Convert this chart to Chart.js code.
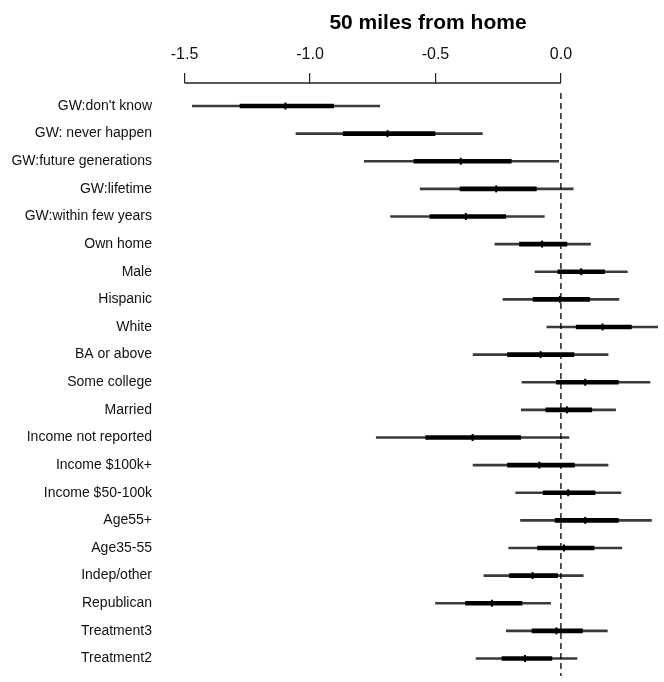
<!DOCTYPE html>
<html lang="en">
<head>
    <meta charset="UTF-8">
    <title>50 miles from home</title>
    <script src="https://cdn.jsdelivr.net/npm/chart.js@4.4.0/dist/chart.umd.min.js"></script>
    <style>
        body { margin: 0; background: #fff; }
        #wrap { width: 664px; height: 682px; position: relative; }
    </style>
</head>
<body>
    <div id="wrap"><canvas id="coefChart"></canvas></div>

    <script>
        // coefficient estimates and intervals
        var labels = ['GW:don\'t know', 'GW: never happen', 'GW:future generations', 'GW:lifetime',
            'GW:within few years', 'Own home', 'Male', 'Hispanic', 'White', 'BA or above',
            'Some college', 'Married', 'Income not reported', 'Income $100k+', 'Income $50-100k',
            'Age55+', 'Age35-55', 'Indep/other', 'Republican', 'Treatment3', 'Treatment2'];
        var est = [-1.098, -0.691, -0.399, -0.258, -0.379, -0.075, 0.081, -0.004, 0.166, -0.081,
            0.097, 0.024, -0.352, -0.086, 0.029, 0.097, 0.012, -0.113, -0.275, -0.018, -0.143];
        var innerLo = [-1.279, -0.868, -0.586, -0.402, -0.522, -0.165, -0.012, -0.111, 0.061, -0.213,
            -0.018, -0.060, -0.539, -0.213, -0.071, -0.023, -0.093, -0.205, -0.380, -0.115, -0.235];
        var innerHi = [-0.906, -0.502, -0.198, -0.098, -0.220, 0.024, 0.174, 0.114, 0.281, 0.052,
            0.229, 0.123, -0.160, 0.054, 0.136, 0.229, 0.132, -0.013, -0.155, 0.086, -0.036];
        var outerLo = [-1.469, -1.056, -0.784, -0.561, -0.679, -0.263, -0.103, -0.231, -0.056, -0.350,
            -0.155, -0.158, -0.736, -0.350, -0.180, -0.161, -0.208, -0.307, -0.500, -0.218, -0.338];
        var outerHi = [-0.722, -0.313, -0.009, 0.049, -0.066, 0.118, 0.265, 0.231, 0.39, 0.188,
            0.355, 0.218, 0.032, 0.188, 0.239, 0.361, 0.243, 0.089, -0.041, 0.185, 0.064];
        var xTicks = [-1.5, -1.0, -0.5, 0.0];
        var title = '50 miles from home';

        var outerData = labels.map((l, i) => ({ x: [outerLo[i], outerHi[i]], y: i }));
        var innerData = labels.map((l, i) => ({ x: [innerLo[i], innerHi[i]], y: i }));
        var estData = labels.map((l, i) => ({ x: est[i], y: i }));

        function noPadding(scale) {
            scale.paddingLeft = 0;
            scale.paddingRight = 0;
            scale.paddingTop = 0;
            scale.paddingBottom = 0;
        }

        // R-style axis line (only between first and last tick) and the title
        var rAxis = {
            id: 'rAxis',
            afterDraw: function (chart) {
                var ctx = chart.ctx;
                var xs = chart.scales.x;
                var top = chart.chartArea.top;
                ctx.save();
                ctx.strokeStyle = '#222';
                ctx.lineWidth = 1.5;
                ctx.beginPath();
                ctx.moveTo(xs.getPixelForValue(xTicks[0]), top);
                ctx.lineTo(xs.getPixelForValue(xTicks[xTicks.length - 1]), top);
                ctx.stroke();
                ctx.fillStyle = '#000';
                ctx.font = 'bold 21px "Liberation Sans", Arial, sans-serif';
                ctx.textAlign = 'center';
                ctx.textBaseline = 'middle';
                ctx.fillText(title, 428, 23);
                ctx.restore();
            }
        };

        new Chart(document.getElementById('coefChart'), {
            type: 'bar',
            data: {
                datasets: [
                    {
                        type: 'line',
                        data: [{ x: 0, y: -0.47 }, { x: 0, y: 21.5 }],
                        borderColor: '#000',
                        borderWidth: 1.3,
                        borderDash: [6, 4],
                        pointRadius: 0,
                        order: 0
                    },
                    {
                        type: 'scatter',
                        data: estData,
                        pointStyle: 'line',
                        rotation: 90,
                        radius: 3.5,
                        borderWidth: 2,
                        borderColor: '#000',
                        order: 1
                    },
                    {
                        data: innerData,
                        backgroundColor: '#000',
                        barThickness: 4,
                        grouped: false,
                        order: 2
                    },
                    {
                        data: outerData,
                        backgroundColor: '#3a3a3a',
                        barThickness: 2,
                        grouped: false,
                        order: 3
                    }
                ]
            },
            options: {
                indexAxis: 'y',
                responsive: true,
                maintainAspectRatio: false,
                animation: false,
                layout: { padding: 0 },
                plugins: {
                    legend: { display: false },
                    tooltip: { enabled: false }
                },
                scales: {
                    x: {
                        type: 'linear',
                        position: 'top',
                        min: -1.59,
                        max: 0.387,
                        afterBuildTicks: function (scale) {
                            scale.ticks = xTicks.map(v => ({ value: v }));
                        },
                        afterFit: function (scale) { scale.height = 83; noPadding(scale); },
                        border: { display: false },
                        grid: {
                            drawOnChartArea: false,
                            drawTicks: true,
                            tickLength: 10,
                            color: '#222',
                            lineWidth: 1.2
                        },
                        ticks: {
                            padding: 9,
                            color: '#111',
                            font: { family: '"Liberation Sans", Arial, sans-serif', size: 16 },
                            callback: function (v) { return v.toFixed(1); }
                        }
                    },
                    y: {
                        type: 'linear',
                        reverse: true,
                        offset: false,
                        min: -0.833,
                        max: 20.634,
                        afterBuildTicks: function (scale) {
                            scale.ticks = labels.map((l, i) => ({ value: i }));
                        },
                        afterFit: function (scale) { scale.width = 162; noPadding(scale); },
                        border: { display: false },
                        grid: { display: false, drawTicks: false, tickLength: 0, offset: false },
                        ticks: {
                            padding: 10,
                            color: '#111',
                            font: { family: '"Liberation Sans", Arial, sans-serif', size: 14 },
                            callback: function (v) { return labels[v]; }
                        }
                    }
                }
            },
            plugins: [rAxis]
        });
    </script>
</body>
</html>
